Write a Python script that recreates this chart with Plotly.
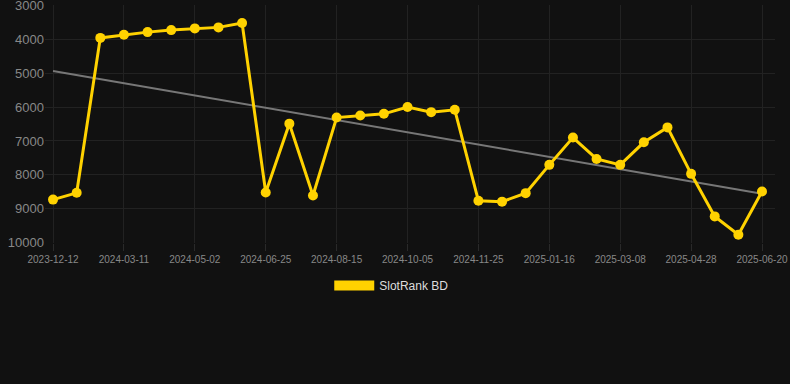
import numpy as np
import plotly.graph_objects as go

dates = ["2023-12-12", "2024-01-11", "2024-02-10", "2024-03-11", "2024-03-28", "2024-04-15",
         "2024-05-02", "2024-05-20", "2024-06-07", "2024-06-25", "2024-07-12", "2024-07-29",
         "2024-08-15", "2024-09-01", "2024-09-18", "2024-10-05", "2024-10-22", "2024-11-08",
         "2024-11-25", "2024-12-12", "2024-12-30", "2025-01-16", "2025-02-02", "2025-02-19",
         "2025-03-08", "2025-03-25", "2025-04-11", "2025-04-28", "2025-05-16", "2025-06-03",
         "2025-06-20"]
ranks = [8730, 8530, 3960, 3870, 3790, 3730, 3680, 3650, 3520,
         8520, 6490, 8610, 6310, 6250, 6200, 6000, 6150, 6080,
         8765, 8790, 8540, 7705, 6900, 7530, 7705, 7040, 6600, 7970, 9225, 9765, 8490]
tick_labels = dates[::3]
y_ticks = [3000, 4000, 5000, 6000, 7000, 8000, 9000, 10000]
y_tick_text = [str(v) for v in y_ticks]

idx = np.arange(len(ranks))
slope, intercept = np.polyfit(idx, ranks, 1)
trend = slope * idx + intercept

YELLOW = "#FFD200"
fig = go.Figure()
fig.add_trace(go.Scatter(x=dates, y=trend, mode="lines", line=dict(color="#777777", width=2),
                         showlegend=False, hoverinfo="skip"))
fig.add_trace(go.Scatter(x=dates, y=ranks, mode="lines+markers", name="SlotRank BD",
                         line=dict(color=YELLOW, width=3), marker=dict(color=YELLOW, size=10),
                         showlegend=False))
fig.add_trace(go.Scatter(x=[None], y=[None], mode="lines", name="SlotRank BD",
                         line=dict(color=YELLOW, width=12), showlegend=True))

fig.update_layout(
    width=790, height=384,
    paper_bgcolor="#111111", plot_bgcolor="#111111",
    margin=dict(l=45, r=15, t=5, b=141),
    font=dict(family="Liberation Sans, Arial, sans-serif", color="#888888"),
    showlegend=True,
    legend=dict(orientation="h", x=0.475, xanchor="center", y=-0.118, yanchor="top",
                font=dict(size=12, color="#dddddd"), itemwidth=40, bgcolor="rgba(0,0,0,0)"),
    xaxis=dict(type="category", tickmode="array", tickvals=tick_labels, ticktext=tick_labels,
               range=[-0.34, 30.55], showgrid=True, gridcolor="#222222", zeroline=False,
               tickfont=dict(size=10, color="#888888"), ticks="outside", ticklen=7,
               tickcolor="#2a2a2a", showline=False, automargin=False),
    yaxis=dict(range=[10010, 2990], tickmode="array", tickvals=y_ticks, ticktext=y_tick_text,
               showgrid=True, gridcolor="#222222", ticklabeloverflow="allow",
               zeroline=False, tickfont=dict(size=13, color="#888888"), ticks="",
               showline=False, automargin=False),
)
fig.write_html("out.html", config={"displayModeBar": False},
               post_script="document.body.style.margin='0';document.body.style.background='#111111';")
